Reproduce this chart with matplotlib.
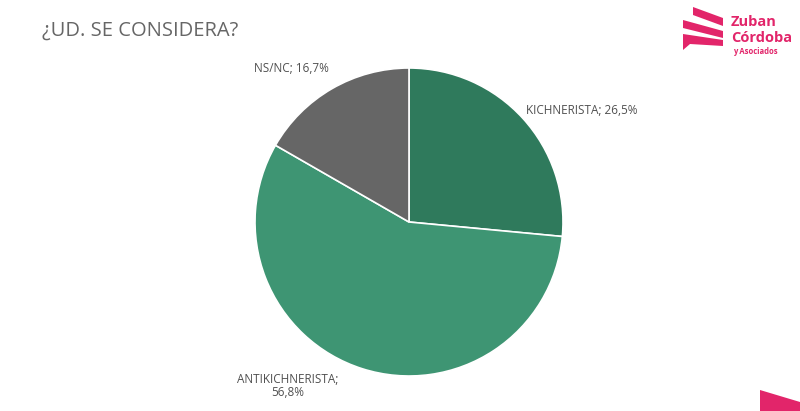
import matplotlib
matplotlib.use("Agg")
import matplotlib.pyplot as plt
from matplotlib.patches import Polygon

# Data
categories = ["KICHNERISTA", "ANTIKICHNERISTA", "NS/NC"]
values = [26.5, 56.8, 16.7]
colors = ["#2f7a5c", "#3e9573", "#666666"]
label_texts = ["KICHNERISTA; 26,5%", "ANTIKICHNERISTA;\n56,8%", "NS/NC; 16,7%"]
label_pos = [(526, 111, "left"), (288, 386, "center"), (329, 69, "right")]

W, H = 800, 411
fig = plt.figure(figsize=(W / 100, H / 100), dpi=100)
fig.patch.set_facecolor("white")

# pie axes placed in pixel coordinates
cx, cy, r = 409, 222, 154
ax = fig.add_axes([(cx - r) / W, (H - cy - r) / H, 2 * r / W, 2 * r / H])
ax.pie(values, colors=colors, startangle=90, counterclock=False,
       wedgeprops=dict(edgecolor="white", linewidth=1.2))
ax.set_xlim(-1, 1)
ax.set_ylim(-1, 1)
ax.set_aspect("equal")
ax.axis("off")

font = "Open Sans"
for txt, (x, y, ha) in zip(label_texts, label_pos):
    fig.text(x / W, 1 - y / H, txt, ha=ha, va="center", fontsize=8.5,
             color="#505050", family=font, linespacing=1.05)

# title
fig.text(42 / W, 1 - 31 / H, "¿UD. SE CONSIDERA?", ha="left", va="center",
         fontsize=14.5, color="#666666", family=font)

# logo
pink = "#e2256a"
bg = fig.add_axes([0, 0, 1, 1], zorder=-1)
bg.set_xlim(0, W)
bg.set_ylim(H, 0)
bg.axis("off")
stripes = [
    [(693, 7), (723, 18), (723, 26), (693, 15)],
    [(683, 20), (723, 31), (723, 38), (683, 28)],
    [(683, 34), (723, 40), (723, 46), (690, 44), (683, 50)],
]
for s in stripes:
    bg.add_patch(Polygon(s, closed=True, color=pink, lw=0))
bg.add_patch(Polygon([(760, 390), (800, 402), (800, 411), (760, 411)],
                     closed=True, color=pink, lw=0))
bg.text(731, 22, "Zuban", ha="left", va="center", fontsize=10.5, color=pink,
        family=font, fontweight="bold")
bg.text(731, 38, "Córdoba", ha="left", va="center", fontsize=10.5, color=pink,
        family=font, fontweight="bold")
bg.text(733, 52, "y Asociados", ha="left", va="center", fontsize=5.5,
        color=pink, family=font, fontweight="bold")

fig.savefig("out.png", dpi=100, facecolor="white")
